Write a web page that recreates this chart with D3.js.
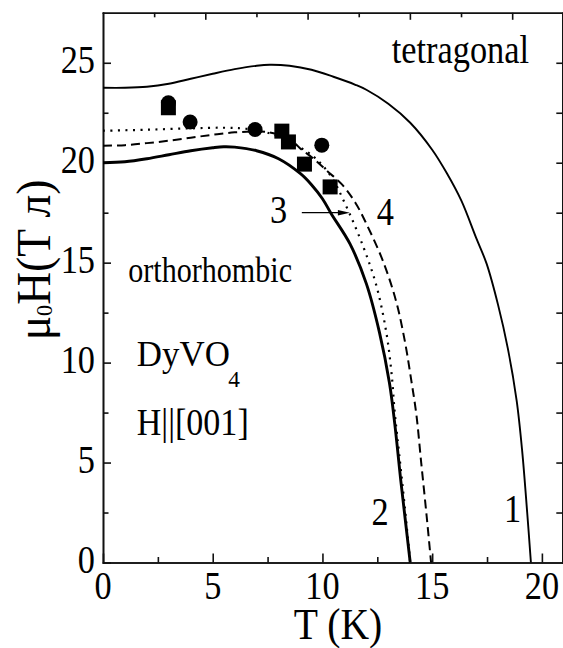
<!DOCTYPE html>
<html><head><meta charset="utf-8">
<script src="https://cdn.jsdelivr.net/npm/d3@7"></script>
<style>
body{margin:0;background:#fff}
svg{display:block}
</style>
</head><body>
<svg id="c" width="563" height="648"></svg>
<script>
// ---- data ----
const curve1T = [0, 1, 2, 3, 4, 5, 6, 7, 7.6, 8.5, 9.5, 10.5, 11.5, 12, 13, 14, 15, 15.67, 16.33, 17, 17.48, 18, 18.45, 18.85, 19.1, 19.33, 19.5];
const curve1H = [23.75, 23.75, 23.8, 23.95, 24.2, 24.45, 24.68, 24.85, 24.9, 24.85, 24.65, 24.3, 23.9, 23.65, 22.95, 22.0, 20.65, 19.47, 18.1, 16.25, 14.95, 12.9, 10.7, 8.1, 5.6, 2.5, 0];
const curve2T = [0, 1, 2, 3, 4, 5, 5.5, 6, 7, 8, 9, 9.5, 10, 10.4, 11.25, 12, 12.6, 13.05, 13.3, 13.57, 13.8, 14.0];
const curve2H = [20, 20.05, 20.2, 20.4, 20.6, 20.75, 20.8, 20.78, 20.6, 20.2, 19.45, 18.9, 18.2, 17.45, 15.95, 13.95, 11.5, 9.0, 6.9, 4.1, 1.9, 0];
const curve3T = [0, 2, 4, 5.5, 6.5, 7.5, 8.5, 9.6, 10.4, 11.03, 11.86, 12.47, 12.92, 13.15, 13.3, 13.5, 13.75, 14.0];
const curve3H = [21.6, 21.65, 21.72, 21.75, 21.7, 21.5, 21.05, 20.3, 19.3, 17.95, 15.8, 13.8, 11.45, 9.45, 7.45, 5.4, 2.8, 0];
const curve4T = [0, 1, 2, 3, 4, 5, 6, 7, 7.5, 8.5, 9.0, 9.6, 10.2, 10.9, 11.5, 12.0, 12.75, 13.35, 13.75, 14.05, 14.28, 14.5, 14.75, 14.95];
const curve4H = [20.85, 20.88, 20.98, 21.1, 21.25, 21.4, 21.52, 21.56, 21.53, 21.2, 20.7, 20.2, 19.6, 18.9, 18.0, 16.95, 15.1, 13.1, 11.1, 9.1, 7.4, 5.0, 2.3, 0];
const circlesT = [2.98, 3.97, 6.93, 9.97];
const circlesH = [23.0, 22.04, 21.66, 20.88];
const squaresT = [2.98, 8.15, 8.45, 9.18, 10.35];
const squaresH = [22.75, 21.58, 21.04, 19.93, 18.79];
const xMajorTicks = [0, 5, 10, 15, 20];
const xMinorTicks = [2.5, 7.5, 12.5, 17.5];
const yMajorTicks = [0, 5, 10, 15, 20, 25];
const yMinorTicks = [2.5, 7.5, 12.5, 17.5, 22.5];
const topMajorTicks = [5, 10, 15, 20];
const topMinorTicks = [2.5, 7.5, 12.5, 17.5];
const rightTicks = [2.5, 5, 7.5, 10, 12.5, 15, 17.5, 20, 22.5, 25];
const xTitle = "T (K)";
const phaseLabels = [{t: "tetragonal", T: 13.16, H: 25.0, size: 39, sx: 0.88},
                     {t: "orthorhombic", T: 1.15, H: 14.05, size: 35, sx: 0.86}];
const curveLabels = [{t: "1", T: 18.27, H: 2.03}, {t: "2", T: 12.24, H: 1.88},
                     {t: "3", T: 7.61, H: 16.99}, {t: "4", T: 12.47, H: 16.89}];
const arrow3 = {T0: 9.06, T1: 11.25, H: 17.5};

const FONT = "'Liberation Serif', Tinos, 'Times New Roman', Times, 'DejaVu Serif', serif";

// ---- scales ----
const svg = d3.select("#c");
const x = d3.scaleLinear().domain([0, 20.93]).range([103, 562.3]);
const xTop = d3.scaleLinear().domain([0, 22.45]).range([103, 562.3]);
const y = d3.scaleLinear().domain([0, 27.5]).range([562.5, 12.8]);

function txt(px, py, s, size, sx, anchor) {
  return svg.append("text")
    .attr("transform", `translate(${px},${py}) scale(${sx},1)`)
    .attr("text-anchor", anchor || "start")
    .attr("font-family", FONT)
    .style("font-family", FONT)
    .style("font-size", size + "px")
    .attr("fill", "#000")
    .text(s);
}

// ---- axes ----
const axStroke = g => g.selectAll("path,line").attr("stroke", "#111").attr("stroke-width", 1.6);
svg.append("g").attr("transform", `translate(0,${y(0)})`)
  .call(d3.axisBottom(x).tickValues(xMajorTicks).tickSize(-9).tickSizeOuter(0).tickFormat(""))
  .call(axStroke);
svg.append("g").attr("transform", `translate(0,${y(0)})`)
  .call(d3.axisBottom(x).tickValues(xMinorTicks).tickSize(-5.5).tickSizeOuter(0).tickFormat(""))
  .call(axStroke);
svg.append("g").attr("transform", `translate(0,${y(27.5)})`)
  .call(d3.axisTop(xTop).tickValues(topMajorTicks).tickSize(-7).tickSizeOuter(0).tickFormat(""))
  .call(axStroke);
svg.append("g").attr("transform", `translate(0,${y(27.5)})`)
  .call(d3.axisTop(xTop).tickValues(topMinorTicks).tickSize(-4.5).tickSizeOuter(0).tickFormat(""))
  .call(axStroke);
svg.append("g").attr("transform", `translate(${x(0)},0)`)
  .call(d3.axisLeft(y).tickValues(yMajorTicks).tickSize(-8).tickSizeOuter(0).tickFormat(""))
  .call(axStroke);
svg.append("g").attr("transform", `translate(${x(0)},0)`)
  .call(d3.axisLeft(y).tickValues(yMinorTicks).tickSize(-5.5).tickSizeOuter(0).tickFormat(""))
  .call(axStroke);
svg.append("g").attr("transform", `translate(${x(20.93)},0)`)
  .call(d3.axisRight(y).tickValues(rightTicks).tickSize(-6).tickSizeOuter(0).tickFormat(""))
  .call(axStroke);
svg.selectAll(".domain").attr("stroke-linecap", "square");

// tick labels
xMajorTicks.forEach(v => txt(x(v), 599, String(v), 39, 0.88, "middle"));
yMajorTicks.forEach(v => txt(95, y(v) + 10.5, String(v), 39, 0.88, "end"));

// axis titles
txt(338, 639, xTitle, 45, 0.88, "middle");
const yt = svg.append("text")
  .attr("transform", "translate(50,260) rotate(-90) scale(0.93,1)")
  .attr("text-anchor", "middle")
  .attr("font-family", FONT)
  .style("font-family", FONT)
  .style("font-size", "49px");
yt.append("tspan").text("μ");
yt.append("tspan").style("font-size", "24px").attr("dy", 2).text("0");
yt.append("tspan").attr("dy", -2).text("H(Т л)");

// ---- curves ----
const line = (T, H) => d3.line().curve(d3.curveCatmullRom.alpha(0.5))(T.map((t, i) => [x(t), y(H[i])]));
svg.append("path").attr("d", line(curve1T, curve1H)).attr("fill", "none").attr("stroke", "#000").attr("stroke-width", 1.9);
svg.append("path").attr("d", line(curve2T, curve2H)).attr("fill", "none").attr("stroke", "#000").attr("stroke-width", 2.9);
svg.append("path").attr("d", line(curve3T, curve3H)).attr("fill", "none").attr("stroke", "#000").attr("stroke-width", 2.2).attr("stroke-dasharray", "2,5.5");
svg.append("path").attr("d", line(curve4T, curve4H)).attr("fill", "none").attr("stroke", "#000").attr("stroke-width", 2).attr("stroke-dasharray", "9,5");

// ---- markers ----
svg.selectAll("circle.pt").data(circlesT).enter().append("circle")
  .attr("cx", d => x(d)).attr("cy", (d, i) => y(circlesH[i])).attr("r", 7.5).attr("fill", "#000");
svg.selectAll("rect.pt").data(squaresT).enter().append("rect")
  .attr("x", d => x(d) - 7.5).attr("y", (d, i) => y(squaresH[i]) - 7.5)
  .attr("width", 15).attr("height", 15).attr("fill", "#000");

// ---- annotations ----
phaseLabels.forEach(p => txt(x(p.T), y(p.H), p.t, p.size, p.sx, "start"));
curveLabels.forEach(p => txt(x(p.T), y(p.H), p.t, 39, 0.88, "start"));
txt(x(1.54), y(9.85), "DyVO", 36, 0.97, "start");
txt(x(1.54) + 91.5, y(9.85) + 21.5, "4", 24, 0.97, "start");
txt(x(1.54), y(6.38), "H||[001]", 37, 0.92, "start");

// arrow for label 3
svg.append("line").attr("x1", x(arrow3.T0)).attr("x2", x(arrow3.T1) - 8)
  .attr("y1", y(arrow3.H)).attr("y2", y(arrow3.H)).attr("stroke", "#000").attr("stroke-width", 1.3);
const tipX = x(arrow3.T1), tipY = y(arrow3.H);
svg.append("path").attr("d", `M${tipX},${tipY} L${tipX - 12},${tipY - 2.8} L${tipX - 12},${tipY + 2.8} Z`).attr("fill", "#000");
</script>
</body></html>
